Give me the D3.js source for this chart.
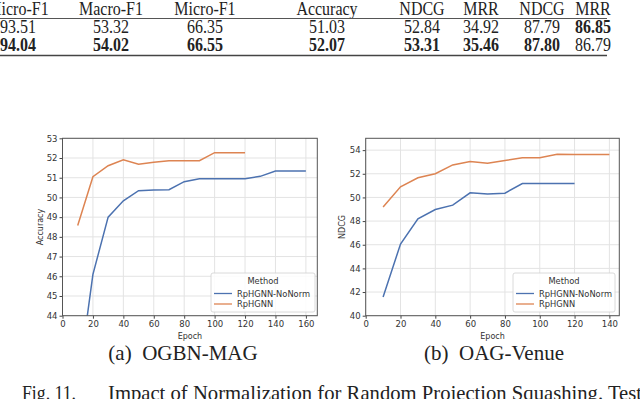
<!DOCTYPE html>
<html>
<head>
<meta charset="utf-8">
<script src="https://cdn.jsdelivr.net/npm/d3@7/dist/d3.min.js"></script>
<style>
  body { margin: 0; background: #fff; }
  svg { display: block; }
</style>
</head>
<body>
<div id="fig"></div>
<script>
// table values
const tableHeader = ["Micro-F1", "Macro-F1", "Micro-F1", "Accuracy", "NDCG", "MRR", "NDCG", "MRR"];
const tableRow1 = ["93.51", "53.32", "66.35", "51.03", "52.84", "34.92", "87.79", "86.85"];
const tableRow2 = ["94.04", "54.02", "66.55", "52.07", "53.31", "35.46", "87.80", "86.79"];
const row1Bold = [false, false, false, false, false, false, false, true];
const row2Bold = [true, true, true, true, true, true, true, false];

// chart (a) OGBN-MAG
const epochsA = [10, 20, 30, 40, 50, 60, 70, 80, 90, 100, 110, 120, 130, 140, 150, 160];
const noNormA = [40.4, 46.1, 49.0, 49.83, 50.34, 50.38, 50.39, 50.8, 50.95, 50.95, 50.95, 50.95, 51.07, 51.34, 51.34, 51.34];
const epochsA2 = [10, 20, 30, 40, 50, 60, 70, 80, 90, 100, 110, 120];
const rpA = [48.58, 51.05, 51.61, 51.91, 51.68, 51.78, 51.86, 51.86, 51.86, 52.27, 52.27, 52.27];
const xTicksA = [0, 20, 40, 60, 80, 100, 120, 140, 160];
const yTicksA = [44, 45, 46, 47, 48, 49, 50, 51, 52, 53];

// chart (b) OAG-Venue
const epochsB = [10, 20, 30, 40, 50, 60, 70, 80, 90, 100, 110, 120];
const noNormB = [41.58, 46.06, 48.19, 48.98, 49.35, 50.39, 50.3, 50.36, 51.18, 51.18, 51.18, 51.18];
const epochsB2 = [10, 20, 30, 40, 50, 60, 70, 80, 90, 100, 110, 120, 130, 140];
const rpB = [49.2, 50.9, 51.66, 52.0, 52.75, 53.04, 52.9, 53.12, 53.35, 53.35, 53.66, 53.63, 53.63, 53.63];
const xTicksB = [0, 20, 40, 60, 80, 100, 120, 140];
const yTicksB = [40, 42, 44, 46, 48, 50, 52, 54];

const methods = ["RpHGNN-NoNorm", "RpHGNN"];
const colors = ["#4c72b0", "#dd8452"];

const svg = d3.select("#fig").append("svg")
  .attr("width", 640).attr("height", 399);

/* table */
const colX = [18, 111, 205, 327, 422, 481, 542, 593];
const serif = "'Liberation Serif', 'Times New Roman', serif";
const sans = "'DejaVu Sans', sans-serif";
// the scanned table type is tall and narrow, so stretch it a little vertically
const tbl = svg.append("g").attr("transform", "scale(1,1.12)");
function tableRow(vals, yPos, bold) {
  tbl.append("g").selectAll("text").data(vals).enter().append("text")
    .attr("x", (d, i) => colX[i]).attr("y", yPos / 1.12)
    .attr("text-anchor", "middle")
    .style("font-family", serif).style("font-size", "16px").style("fill", "#222")
    .style("font-weight", (d, i) => bold && bold[i] ? "bold" : "normal")
    .text(d => d);
}
tableRow(tableHeader, 15, null);
tableRow(tableRow1, 33, row1Bold);
tableRow(tableRow2, 51, row2Bold);
svg.append("line").attr("x1", 0).attr("x2", 607).attr("y1", 18.5).attr("y2", 18.5)
  .attr("stroke", "#555").attr("stroke-width", 1);
svg.append("line").attr("x1", 0).attr("x2", 607).attr("y1", 55.5).attr("y2", 55.5)
  .attr("stroke", "#444").attr("stroke-width", 1.3);

/* charts */
function drawChart(cfg) {
  const { left, right, top, bottom, xDomain, yDomain, xTicks, yTicks, series, ylabel, legend, clipId } = cfg;
  const x = d3.scaleLinear().domain(xDomain).range([left, right]);
  const y = d3.scaleLinear().domain(yDomain).range([bottom, top]);
  const g = svg.append("g");

  // grid
  g.selectAll("line.gx").data(xTicks).enter().append("line")
    .attr("x1", d => x(d)).attr("x2", d => x(d)).attr("y1", top).attr("y2", bottom)
    .attr("stroke", "#e3e3e3").attr("stroke-width", 1);
  g.selectAll("line.gy").data(yTicks).enter().append("line")
    .attr("x1", left).attr("x2", right).attr("y1", d => y(d)).attr("y2", d => y(d))
    .attr("stroke", "#e3e3e3").attr("stroke-width", 1);

  svg.append("clipPath").attr("id", clipId).append("rect")
    .attr("x", left).attr("y", top).attr("width", right - left).attr("height", bottom - top);

  const line = d3.line().x(d => x(d[0])).y(d => y(d[1]));
  series.forEach((s, i) => {
    g.append("path")
      .attr("d", line(s.xs.map((v, j) => [v, s.ys[j]])))
      .attr("clip-path", `url(#${clipId})`)
      .attr("fill", "none").attr("stroke", colors[i]).attr("stroke-width", 1.5);
  });

  // axes
  const xAxis = d3.axisBottom(x).tickValues(xTicks).tickSize(3).tickPadding(2);
  const yAxis = d3.axisLeft(y).tickValues(yTicks).tickSize(3).tickPadding(2);
  const gx = g.append("g").attr("transform", `translate(0,${bottom})`).call(xAxis);
  const gy = g.append("g").attr("transform", `translate(${left},0)`).call(yAxis);
  [gx, gy].forEach(a => {
    a.select(".domain").remove();
    a.selectAll("line").attr("stroke", "#444");
    a.selectAll("text").style("font-family", sans)
      .style("font-size", "8.5px").style("fill", "#333");
  });

  g.append("rect").attr("x", left).attr("y", top)
    .attr("width", right - left).attr("height", bottom - top)
    .attr("fill", "none").attr("stroke", "#555").attr("stroke-width", 1);

  g.append("text")
    .attr("x", (left + right) / 2).attr("y", bottom + 23)
    .attr("text-anchor", "middle")
    .style("font-family", sans).style("font-size", "8px").style("fill", "#333")
    .text("Epoch");
  g.append("text")
    .attr("transform", `translate(${cfg.ylabelX},${(top + bottom) / 2}) rotate(-90)`)
    .attr("text-anchor", "middle")
    .style("font-family", sans).style("font-size", "8px").style("fill", "#333")
    .text(ylabel);

  // legend
  const lg = g.append("g");
  lg.append("rect").attr("x", legend.x).attr("y", legend.y)
    .attr("width", legend.w).attr("height", 39).attr("rx", 2)
    .attr("fill", "#fff").attr("fill-opacity", 0.85)
    .attr("stroke", "#d0d0d0").attr("stroke-width", 0.8);
  lg.append("text").attr("x", legend.x + legend.w / 2).attr("y", legend.y + 11)
    .attr("text-anchor", "middle")
    .style("font-family", sans).style("font-size", "8.3px").style("fill", "#333")
    .text("Method");
  methods.forEach((m, i) => {
    const yy = legend.y + 20.5 + i * 10.5;
    lg.append("line").attr("x1", legend.x + 3).attr("x2", legend.x + 21)
      .attr("y1", yy).attr("y2", yy).attr("stroke", colors[i]).attr("stroke-width", 1.3);
    lg.append("text").attr("x", legend.x + 26).attr("y", yy + 3)
      .style("font-family", sans).style("font-size", "8.3px").style("fill", "#333")
      .text(m);
  });
}

drawChart({
  left: 62.5, right: 317.3, top: 138.3, bottom: 315.7,
  xDomain: [0, 167.5], yDomain: [44, 53],
  xTicks: xTicksA, yTicks: yTicksA,
  series: [{ xs: epochsA, ys: noNormA }, { xs: epochsA2, ys: rpA }],
  ylabel: "Accuracy", ylabelX: 43,
  legend: { x: 211, y: 273, w: 104 },
  clipId: "clipA"
});

drawChart({
  left: 365.7, right: 619.3, top: 138.3, bottom: 315.7,
  xDomain: [0, 145.7], yDomain: [40, 55],
  xTicks: xTicksB, yTicks: yTicksB,
  series: [{ xs: epochsB, ys: noNormB }, { xs: epochsB2, ys: rpB }],
  ylabel: "NDCG", ylabelX: 345,
  legend: { x: 513, y: 273, w: 102 },
  clipId: "clipB"
});

/* captions */
svg.append("text").attr("x", 183).attr("y", 360).attr("text-anchor", "middle")
  .style("font-family", serif).style("font-size", "21px").style("fill", "#222")
  .attr("xml:space", "preserve")
  .text("(a)  OGBN-MAG");
svg.append("text").attr("x", 494).attr("y", 360).attr("text-anchor", "middle")
  .style("font-family", serif).style("font-size", "21px").style("fill", "#222")
  .attr("xml:space", "preserve")
  .text("(b)  OAG-Venue");
svg.append("text").attr("x", 22).attr("y", 400)
  .attr("textLength", 54).attr("lengthAdjust", "spacingAndGlyphs")
  .style("font-family", serif).style("font-size", "21px").style("fill", "#222")
  .text("Fig. 11.");
svg.append("text").attr("x", 108).attr("y", 400)
  .attr("textLength", 534).attr("lengthAdjust", "spacingAndGlyphs")
  .style("font-family", serif).style("font-size", "21px").style("fill", "#222")
  .text("Impact of Normalization for Random Projection Squashing. Test");
</script>
</body>
</html>
